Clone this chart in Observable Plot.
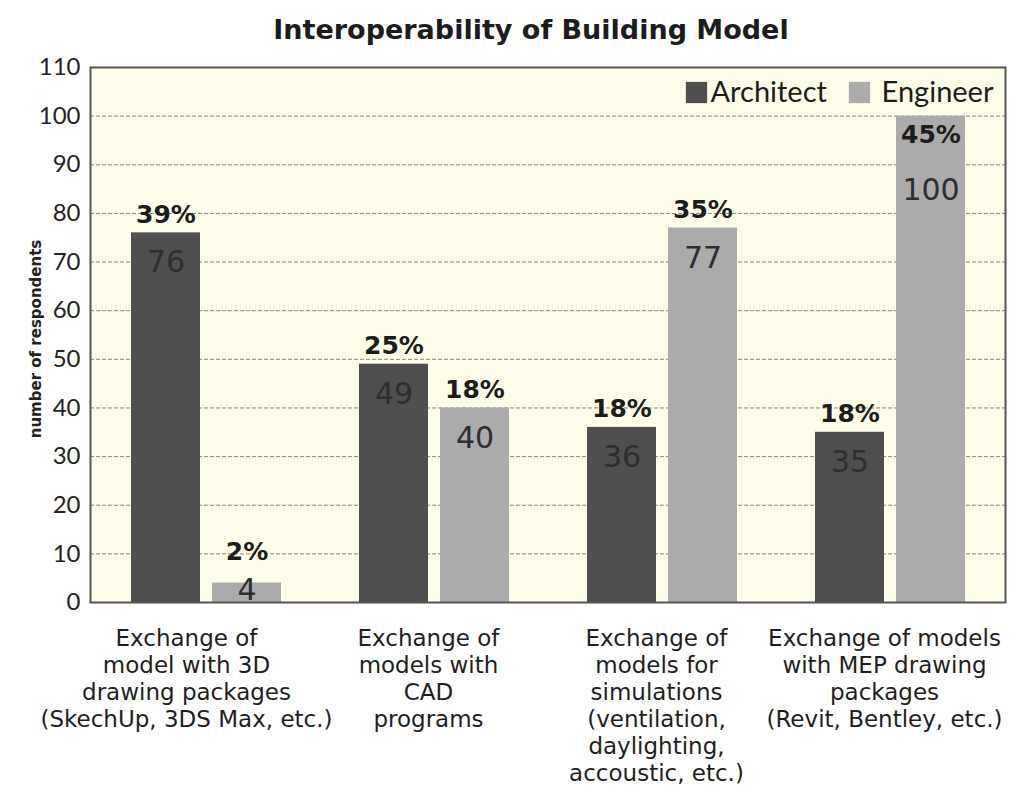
<!DOCTYPE html>
<html>
<head>
<meta charset="utf-8">
<script src="https://cdn.jsdelivr.net/npm/d3@7"></script>
<script src="https://cdn.jsdelivr.net/npm/@observablehq/plot@0.6"></script>
<style>
  html, body { margin: 0; padding: 0; background: #ffffff; }
  #chart svg { display: block; }
</style>
</head>
<body>
<div id="chart"></div>
<script>
const title = "Interoperability of Building Model";
const yLabel = "number of respondents";
const categories = [
  "Exchange of\nmodel with 3D\ndrawing packages\n(SkechUp, 3DS Max, etc.)",
  "Exchange of\nmodels with\nCAD\nprograms",
  "Exchange of\nmodels for\nsimulations\n(ventilation,\ndaylighting,\naccoustic, etc.)",
  "Exchange of models\nwith MEP drawing\npackages\n(Revit, Bentley, etc.)"
];
const series = ["Architect", "Engineer"];
const architect = [76, 49, 36, 35];
const engineer = [4, 40, 77, 100];
const architectPct = ["39%", "25%", "18%", "18%"];
const engineerPct = ["2%", "18%", "35%", "45%"];
const yTicks = [0, 10, 20, 30, 40, 50, 60, 70, 80, 90, 100, 110];
const colors = ["#4f4f4f", "#ababab"];

const arch = categories.map((c, i) => ({category: c, series: "Architect", value: architect[i], pct: architectPct[i]}));
const eng = categories.map((c, i) => ({category: c, series: "Engineer", value: engineer[i], pct: engineerPct[i]}));

const bodyFont = "Lato, 'DejaVu Sans', sans-serif";
const wideFont = "'DejaVu Sans', sans-serif";

const normal = d => d.value >= 10 && d.value < 100;
const small = d => d.value < 10;
const tall = d => d.value >= 100;

const pctStyle = {fontSize: 25, fontWeight: "bold", fill: "#1c1c1c", fontFamily: wideFont};
const valStyle = {fontSize: 30, fill: "#2e2e2e", fontFamily: wideFont};
const catStyle = {frameAnchor: "bottom", lineAnchor: "top", dy: 24, fontSize: 23, lineHeight: 27 / 23, fontFamily: wideFont, fill: "#1e1e1e"};

function labels(data, dx) {
  return [
    Plot.text(data.filter(normal), {x: "category", y: "value", text: "pct", dx, dy: -18, ...pctStyle}),
    Plot.text(data.filter(normal), {x: "category", y: "value", text: d => String(d.value), dx, dy: 30, ...valStyle}),
    Plot.text(data.filter(small), {x: "category", y: "value", text: "pct", dx, dy: -31, ...pctStyle}),
    Plot.text(data.filter(small), {x: "category", y: "value", text: d => String(d.value), dx, dy: 7, ...valStyle}),
    Plot.text(data.filter(tall), {x: "category", y: "value", text: "pct", dx, dy: 19, ...pctStyle}),
    Plot.text(data.filter(tall), {x: "category", y: "value", text: d => String(d.value), dx, dy: 74, ...valStyle})
  ];
}

const chart = Plot.plot({
  width: 1031,
  height: 799,
  marginTop: 67,
  marginBottom: 197,
  marginLeft: 90,
  marginRight: 26,
  style: {background: "#ffffff", fontFamily: bodyFont, color: "#222"},
  x: {domain: categories, padding: 0, axis: null},
  y: {domain: [0, 110], axis: null},
  color: {domain: series, range: colors},
  marks: [
    Plot.frame({fill: "#fefde9", stroke: "none"}),
    Plot.ruleY(yTicks.filter(t => t > 0 && t < 110), {stroke: "#85857c", strokeDasharray: "4,2", strokeWidth: 1}),
    Plot.barY(arch, {x: "category", y: "value", fill: "series", insetLeft: 39, insetRight: 120}),
    Plot.barY(eng, {x: "category", y: "value", fill: "series", insetLeft: 120, insetRight: 39}),
    ...labels(arch, -40.5),
    ...labels(eng, 40.5),
    Plot.frame({stroke: "#555555", strokeWidth: 2}),
    Plot.axisY({ticks: yTicks, tickSize: 0, tickPadding: 10, fontSize: 24, label: null, fill: "#222"}),
    Plot.text([yLabel], {frameAnchor: "left", textAnchor: "middle", lineAnchor: "middle", rotate: -90, dx: -54, dy: 4, fontSize: 15, fontWeight: "bold", fill: "#222", fontFamily: wideFont}),
    Plot.text(categories.slice(0, 1), {x: d => d, dx: -20, ...catStyle}),
    Plot.text(categories.slice(1), {x: d => d, dx: -6, ...catStyle}),
    Plot.text([title], {frameAnchor: "top", lineAnchor: "middle", dx: -17, dy: -37, fontSize: 27, fontWeight: "bold", fill: "#1c1c1c", fontFamily: wideFont}),
    // legend
    Plot.dot(["Architect"], {frameAnchor: "top-right", dx: -309, dy: 25, symbol: "square", r: 12, fill: d => d}),
    Plot.text(["Architect"], {frameAnchor: "top-right", lineAnchor: "middle", textAnchor: "start", dx: -295, dy: 25, fontSize: 29, fill: "#1c1c1c"}),
    Plot.dot(["Engineer"], {frameAnchor: "top-right", dx: -146, dy: 25, symbol: "square", r: 12, fill: d => d}),
    Plot.text(["Engineer"], {frameAnchor: "top-right", lineAnchor: "middle", textAnchor: "end", dx: -12, dy: 25, fontSize: 29, fill: "#1c1c1c"})
  ]
});
document.getElementById("chart").appendChild(chart);
</script>
</body>
</html>
